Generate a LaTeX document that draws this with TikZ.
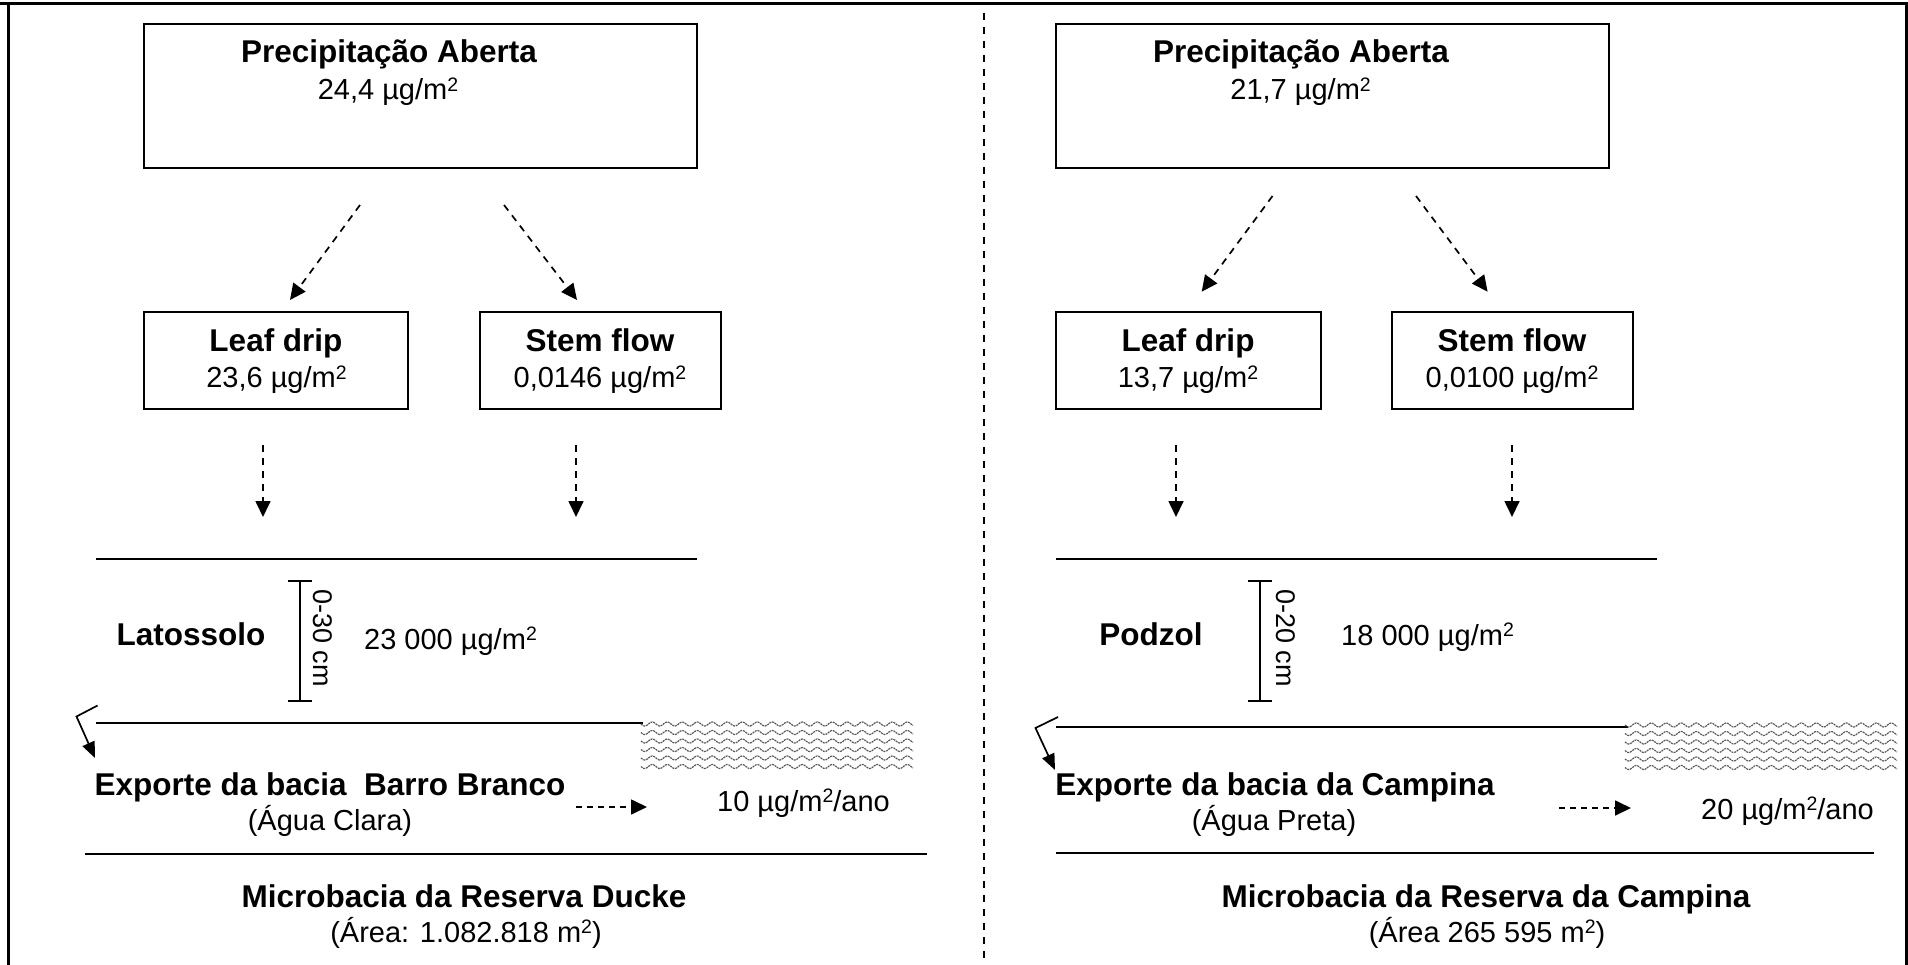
\documentclass[tikz,border=0pt]{standalone}
\usepackage{fontspec}
\setmainfont{Liberation Sans}
\usetikzlibrary{arrows.meta}
\newcommand{\supsq}{\raisebox{8.5pt}{\fontsize{19.5}{19.5}\selectfont 2}}
\tikzset{
  box/.style={draw, line width=2pt, inner sep=0pt},
  bt/.style={font=\fontsize{31.5}{36}\selectfont\bfseries, inner sep=0pt, anchor=base},
  rt/.style={font=\fontsize{29}{34}\selectfont, inner sep=0pt, anchor=base},
  flow/.style={dash pattern=on 7pt off 6pt, line width=1.7pt, -{Triangle[length=16pt,width=15pt]}},
  ground/.style={line width=2.2pt},
  bar/.style={line width=1.7pt},
  bent/.style={line width=1.7pt, -{Triangle[length=16pt,width=13pt]}},
  wave/.style={black!65, line width=1.2pt, dash pattern=on 2pt off 0.8pt},
  frame/.style={line width=3pt},
}
\begin{document}
\begin{tikzpicture}[x=1pt,y=-1pt]
\useasboundingbox (0,0) rectangle (1908,965);
% frame
\draw[frame] (0,4) -- (1908,4);
\draw[frame] (8,4) -- (8,965);
\draw[frame] (1906.5,4) -- (1906.5,965);
\draw[line width=1.5pt, dash pattern=on 7pt off 7pt] (984,13) -- (984,960);

% ===== LEFT PANEL =====
\node[box, minimum width=553pt, minimum height=144pt] (precL) at (420,96.2) {};
\node[bt] (precLt) at (389,63) {Precipitação Aberta};
\node[rt] (precLv) at (388,100) {24,4 µg/m\supsq};
\node[box, minimum width=264.5pt, minimum height=97pt] (leafL) at (275.75,360.5) {};
\node[bt] (leafLt) at (276,352) {Leaf drip};
\node[rt] (leafLv) at (276.5,388) {23,6 µg/m\supsq};
\node[box, minimum width=241pt, minimum height=97pt] (stemL) at (600.15,360.5) {};
\node[bt] (stemLt) at (600,352) {Stem flow};
\node[rt] (stemLv) at (600,388) {0,0146 µg/m\supsq};

\coordinate (aL1s) at (360,205); \coordinate (aL1e) at (290,300);
\coordinate (aL2s) at (504,205); \coordinate (aL2e) at (577,300);
\coordinate (aL3s) at (263,445); \coordinate (aL3e) at (263,517);
\coordinate (aL4s) at (576,445); \coordinate (aL4e) at (576,517);
\draw[flow] (aL1s) -- (aL1e);
\draw[flow] (aL2s) -- (aL2e);
\draw[flow] (aL3s) -- (aL3e);
\draw[flow] (aL4s) -- (aL4e);

\draw[ground] (96,559) -- (697,559);
\node[bt] (latL) at (191,645) {Latossolo};
\draw[bar] (300,581) -- (300,701);
\draw[bar] (288,581) -- (312,581);
\draw[bar] (288,701) -- (312,701);
\node[rt, anchor=center, rotate=-90, font=\fontsize{27}{30}\selectfont] (depL) at (323,638) {0-30 cm};
\node[rt, anchor=base west] (soilLv) at (364,649) {23 000 µg/m\supsq};

\draw[ground] (96,723) -- (643,723);
\foreach \yy in {724,732.5,741,749.5,758,766.5}
  \draw[wave] plot[domain=641:913, samples=220] (\x, {\yy + 2*sin((\x-641)*24)});
\coordinate (bL1) at (97.6,705.5); \coordinate (bL2) at (76.5,716.5); \coordinate (bL3) at (95,758);
\draw[bent] (bL1) -- (bL2) -- (bL3);

\node[bt] (expL) at (330,795) {Exporte da bacia~~Barro Branco};
\node[rt] (expLs) at (330,830) {(Água Clara)};
\coordinate (eL1) at (576,807); \coordinate (eL2) at (647,807);
\draw[flow, dash pattern=on 6pt off 5pt] (eL1) -- (eL2);
\node[rt, anchor=base west] (expLv) at (717,811) {10 µg/m\supsq/ano};
\draw[ground] (85,854) -- (927,854);
\node[bt] (micL) at (464,907) {Microbacia da Reserva Ducke};
\node[rt] (micLs) at (466,942) {(Área: 1.082.818 m\supsq)};

% ===== RIGHT PANEL =====
\node[box, minimum width=553pt, minimum height=144pt] (precR) at (1332.1,96.2) {};
\node[bt] (precRt) at (1301,63) {Precipitação Aberta};
\node[rt] (precRv) at (1300.6,100) {21,7 µg/m\supsq};
\node[box, minimum width=265pt, minimum height=97pt] (leafR) at (1188.25,360.5) {};
\node[bt] (leafRt) at (1188,352) {Leaf drip};
\node[rt] (leafRv) at (1188,388) {13,7 µg/m\supsq};
\node[box, minimum width=241.3pt, minimum height=97pt] (stemR) at (1512.35,360.5) {};
\node[bt] (stemRt) at (1512,352) {Stem flow};
\node[rt] (stemRv) at (1512,388) {0,0100 µg/m\supsq};

\coordinate (aR1s) at (1272.5,196); \coordinate (aR1e) at (1201.7,291.7);
\coordinate (aR2s) at (1416,196); \coordinate (aR2e) at (1487.6,291.7);
\coordinate (aR3s) at (1176,445); \coordinate (aR3e) at (1176,517);
\coordinate (aR4s) at (1512,445); \coordinate (aR4e) at (1512,517);
\draw[flow] (aR1s) -- (aR1e);
\draw[flow] (aR2s) -- (aR2e);
\draw[flow] (aR3s) -- (aR3e);
\draw[flow] (aR4s) -- (aR4e);

\draw[ground] (1056,559) -- (1657,559);
\node[bt] (podR) at (1151,645) {Podzol};
\draw[bar] (1260,581) -- (1260,701);
\draw[bar] (1248,581) -- (1272,581);
\draw[bar] (1248,701) -- (1272,701);
\node[rt, anchor=center, rotate=-90, font=\fontsize{27}{30}\selectfont] (depR) at (1286,638) {0-20 cm};
\node[rt, anchor=base west] (soilRv) at (1341,645) {18 000 µg/m\supsq};

\draw[ground] (1056,727) -- (1628,727);
\foreach \yy in {725,733.5,742,750.5,759,767.5}
  \draw[wave] plot[domain=1625:1897, samples=220] (\x, {\yy + 2*sin((\x-1625)*24)});
\coordinate (bR1) at (1058,717); \coordinate (bR2) at (1035.5,728); \coordinate (bR3) at (1055,770);
\draw[bent] (bR1) -- (bR2) -- (bR3);

\node[bt] (expR) at (1275,795) {Exporte da bacia da Campina};
\node[rt] (expRs) at (1274,830) {(Água Preta)};
\coordinate (eR1) at (1559,808); \coordinate (eR2) at (1631,808);
\draw[flow, dash pattern=on 6pt off 5pt] (eR1) -- (eR2);
\node[rt, anchor=base west] (expRv) at (1701,819) {20 µg/m\supsq/ano};
\draw[ground] (1056,853) -- (1874,853);
\node[bt] (micR) at (1486,907) {Microbacia da Reserva da Campina};
\node[rt] (micRs) at (1487,942) {(Área 265 595 m\supsq)};
\end{tikzpicture}
\end{document}
